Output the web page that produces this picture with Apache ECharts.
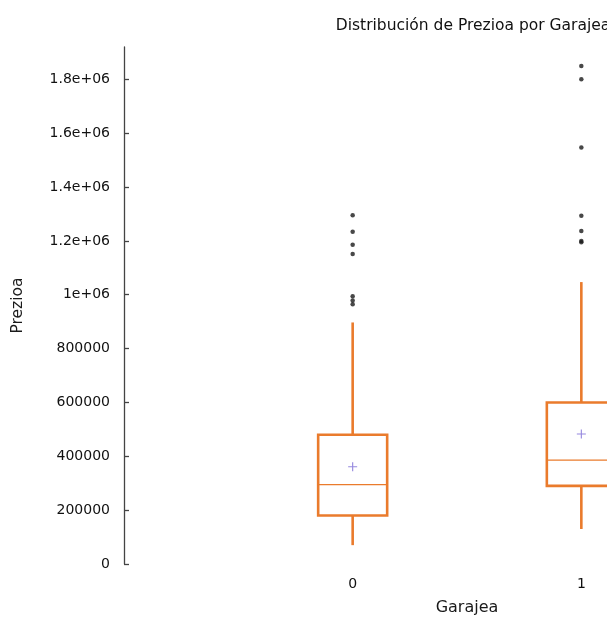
<!DOCTYPE html>
<html>
<head>
<meta charset="utf-8">
<script src="https://cdn.jsdelivr.net/npm/echarts@6/dist/echarts.min.js"></script>
<style>
html,body{margin:0;padding:0;background:#fff;overflow:hidden;width:607px;height:621px;}
#c{width:936px;height:621px;}
</style>
</head>
<body>
<div id="c"></div>
<script>
const categories = ['0', '1'];
const whiskerLow = [70000, 130000];
const q1 = [180000, 290000];
const median = [295000, 386000];
const q3 = [480000, 600000];
const whiskerHigh = [897000, 1047000];
const means = [361000, 483000];
const outliers0 = [1295000, 1234000, 1186000, 1151000, 994000, 979000, 965000];
const outliers1 = [1849000, 1800000, 1547000, 1293000, 1237000, 1200000, 1195000];
const yTicks = [0, 200000, 400000, 600000, 800000, 1000000, 1200000, 1400000, 1600000, 1800000];
const yTickLabels = ['0', '200000', '400000', '600000', '800000', '1e+06', '1.2e+06', '1.4e+06', '1.6e+06', '1.8e+06'];

const boxData = categories.map((c, i) => [i, whiskerLow[i], q1[i], median[i], q3[i], whiskerHigh[i]]);
const meanData = categories.map((c, i) => [i, means[i]]);
const outlierData = [];
[outliers0, outliers1].forEach((arr, i) => arr.forEach(v => outlierData.push([i, v])));

const ORANGE = '#ea7b2c';
const FONT = 'DejaVu Sans';

const chart = echarts.init(document.getElementById('c'), null, {renderer: 'canvas'});
chart.setOption({
  backgroundColor: '#fff',
  animation: false,
  title: {
    text: 'Distribución de Prezioa por Garajea',
    left: 468, top: 13, textAlign: 'center',
    textStyle: {fontFamily: FONT, fontSize: 15.5, fontWeight: 'normal', color: '#111'}
  },
  grid: {left: 124, right: 126, top: 47, bottom: 54, containLabel: false},
  xAxis: {
    type: 'value', min: -1, max: 2, interval: 1,
    name: 'Garajea', nameLocation: 'middle', nameGap: 36,
    nameTextStyle: {fontFamily: FONT, fontSize: 16, color: '#1a1a1a'},
    axisLine: {show: false}, axisTick: {show: false}, splitLine: {show: false},
    axisLabel: {
      customValues: [0, 1], margin: 13,
      fontFamily: FONT, fontSize: 14, color: '#111',
      formatter: v => categories[v] !== undefined ? categories[v] : ''
    }
  },
  yAxis: {
    type: 'value', min: 0, max: 1920000,
    name: 'Prezioa', nameLocation: 'middle', nameGap: 98, nameRotate: 90,
    nameTextStyle: {fontFamily: FONT, fontSize: 15.5, color: '#1a1a1a'},
    axisLine: {show: true, onZero: false, lineStyle: {color: '#444', width: 1.3}},
    axisTick: {show: true, inside: true, length: 5, customValues: yTicks, lineStyle: {color: '#444', width: 1.3}},
    splitLine: {show: false},
    axisLabel: {
      customValues: yTicks, margin: 14,
      fontFamily: FONT, fontSize: 14, color: '#111',
      formatter: v => { const k = yTicks.indexOf(v); return k >= 0 ? yTickLabels[k] : ''; }
    }
  },
  series: [
    {
      type: 'custom',
      data: boxData,
      encode: {x: 0, y: [1, 2, 3, 4, 5]},
      renderItem: function (params, api) {
        const x = api.value(0);
        const pMin = api.coord([x, api.value(1)]);
        const pQ1 = api.coord([x, api.value(2)]);
        const pMed = api.coord([x, api.value(3)]);
        const pQ3 = api.coord([x, api.value(4)]);
        const pMax = api.coord([x, api.value(5)]);
        const hw = 34.5;
        const cx = pQ1[0];
        return {
          type: 'group',
          children: [
            {type: 'line', shape: {x1: cx, y1: pQ3[1], x2: cx, y2: pMax[1]}, style: {stroke: ORANGE, lineWidth: 2.6}},
            {type: 'line', shape: {x1: cx, y1: pQ1[1], x2: cx, y2: pMin[1]}, style: {stroke: ORANGE, lineWidth: 2.6}},
            {type: 'rect', shape: {x: cx - hw, y: pQ3[1], width: 2 * hw, height: pQ1[1] - pQ3[1]}, style: {fill: 'none', stroke: ORANGE, lineWidth: 2.6}},
            {type: 'line', shape: {x1: cx - hw, y1: pMed[1], x2: cx + hw, y2: pMed[1]}, style: {stroke: ORANGE, lineWidth: 1.2}}
          ]
        };
      },
      z: 2
    },
    {
      type: 'scatter',
      data: meanData,
      symbol: 'path://M3.5,0h1v3.5h3.5v1h-3.5v3.5h-1v-3.5h-3.5v-1h3.5z',
      symbolSize: 9,
      itemStyle: {color: '#7a6ad6'},
      z: 3
    },
    {
      type: 'scatter',
      data: outlierData,
      symbol: 'circle',
      symbolSize: 4.5,
      itemStyle: {color: '#1a1a1a'},
      z: 3
    }
  ]
});
</script>
</body>
</html>
